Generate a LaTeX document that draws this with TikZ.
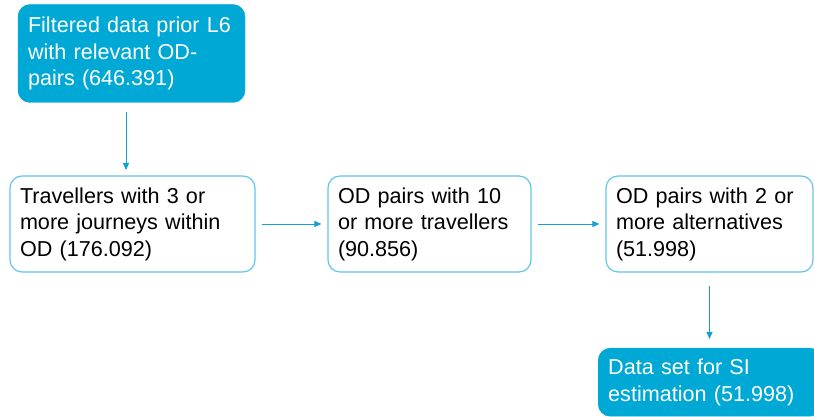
\documentclass[tikz,border=0pt]{standalone}
\usepackage{fontspec}
\setmainfont{Liberation Sans}
\usetikzlibrary{arrows.meta}
\definecolor{boxfill}{RGB}{0,168,214}
\definecolor{boxline}{RGB}{96,198,234}
\definecolor{arrowcol}{RGB}{20,160,210}
\tikzset{
  filledbox/.style={rectangle, rounded corners=12pt, fill=boxfill, draw=boxfill,
    text=white, align=left, inner xsep=10pt, inner ysep=0pt,
    font=\fontsize{21.6pt}{26.5pt}\selectfont},
  stagebox/.style={rectangle, rounded corners=12pt, draw=boxline, line width=1.2pt,
    text=black, align=left, inner xsep=10pt, inner ysep=0pt,
    font=\fontsize{21.6pt}{26.5pt}\selectfont},
  flow/.style={draw=arrowcol, line width=0.9pt, -{Triangle[length=7pt,width=6pt]}}
}
\begin{document}
\begin{tikzpicture}[x=1pt,y=1pt]
\useasboundingbox (0,0) rectangle (814,417);
\node[filledbox, minimum width=227pt, minimum height=98pt, text width=207pt] (src) at (131.5,363.5)
  {Filtered data prior L6\\with relevant OD-\\pairs (646.391)};
\node[stagebox, minimum width=245pt, minimum height=96pt, text width=225pt] (trav) at (132.5,193)
  {Travellers with 3 or\\more journeys within\\OD (176.092)};
\node[stagebox, minimum width=203pt, minimum height=96pt, text width=183pt] (pairs) at (429.5,193)
  {OD pairs with 10\\or more travellers\\(90.856)};
\node[stagebox, minimum width=207pt, minimum height=96pt, text width=187pt] (alts) at (709.5,193)
  {OD pairs with 2 or\\more alternatives\\(51.998)};
\node[filledbox, minimum width=224pt, minimum height=68pt, text width=204pt, anchor=north west] (est) at (598,69)
  {Data set for SI\\estimation (51.998)};
\coordinate (a1s) at (126,305);
\coordinate (a1e) at (126,247);
\draw[flow] (a1s) -- (a1e);
\draw[flow] ([xshift=6pt]trav.east) -- ([xshift=-6pt]pairs.west);
\draw[flow] ([xshift=6pt]pairs.east) -- ([xshift=-6pt]alts.west);
\draw[flow] ([yshift=-13pt]alts.south) -- ([yshift=9pt]est.north -| alts.south);
\end{tikzpicture}
\end{document}
